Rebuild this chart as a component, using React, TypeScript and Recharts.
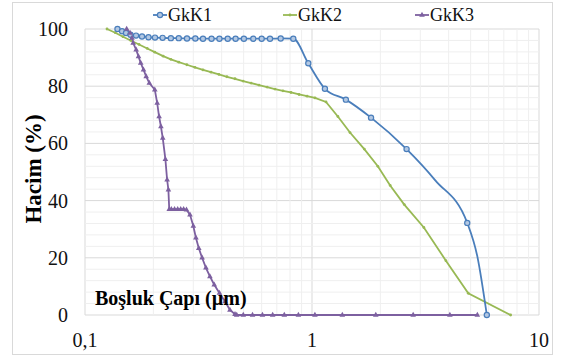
import React from 'react';
import { LineChart, Line, XAxis, YAxis, CartesianGrid, ReferenceLine } from 'recharts';

const gkk1X = [0.139, 0.1456, 0.1516, 0.1586, 0.1678, 0.1783, 0.1904, 0.2034, 0.2197, 0.2389, 0.2589, 0.2814, 0.3062, 0.331, 0.3609, 0.391, 0.4253, 0.4607, 0.5012, 0.5513, 0.6002, 0.6531, 0.7279, 0.8272, 0.963, 1.14, 1.41, 1.82, 2.61, 3.5, 4.83, 5.35, 5.89];
const gkk1Y = [100, 99.2, 98.6, 98.0, 97.7, 97.4, 97.1, 97.0, 96.9, 96.8, 96.8, 96.7, 96.7, 96.6, 96.6, 96.6, 96.6, 96.6, 96.6, 96.6, 96.6, 96.6, 96.7, 96.6, 88.0, 79.1, 75.3, 69.0, 58.0, 47.0, 32.2, 20.5, 0];
// points on the GkK1 curve that carry no marker in the reference
const gkk1NoMarker = [3.5, 5.35];

const gkk2X = [0.125, 0.136, 0.147, 0.159, 0.173, 0.188, 0.203, 0.221, 0.239, 0.259, 0.281, 0.305, 0.331, 0.359, 0.389, 0.422, 0.458, 0.497, 0.539, 0.584, 0.634, 0.687, 0.745, 0.808, 0.877, 0.951, 1.031, 1.153, 1.3, 1.47, 1.7, 1.95, 2.21, 2.55, 3.11, 3.89, 4.88, 7.5];
const gkk2Y = [100, 98.7, 97.3, 96.0, 94.6, 93.2, 91.9, 90.5, 89.4, 88.4, 87.5, 86.6, 85.7, 84.9, 84.1, 83.3, 82.6, 81.8, 81.1, 80.4, 79.7, 79.0, 78.4, 77.8, 77.1, 76.5, 75.9, 74.5, 69.4, 63.8, 58.0, 52.0, 45.3, 38.6, 30.6, 19.0, 7.6, 0];

const gkk3X = [0.1526, 0.158, 0.161, 0.163, 0.168, 0.172, 0.176, 0.181, 0.186, 0.192, 0.203, 0.208, 0.212, 0.216, 0.22, 0.226, 0.23, 0.233, 0.235, 0.24, 0.248, 0.256, 0.264, 0.272, 0.28, 0.29, 0.3, 0.308, 0.317, 0.328, 0.341, 0.355, 0.371, 0.391, 0.414, 0.435, 0.458, 0.466, 0.498, 0.547, 0.605, 0.671, 0.755, 0.871, 1.03, 1.36, 1.91, 2.79, 4.05, 5.35];
const gkk3Y = [100, 98.6, 96.9, 95.1, 92.8, 90.4, 88.1, 85.8, 83.4, 81.1, 78.8, 74.1, 69.4, 65.9, 61.9, 54.5, 47.3, 43.8, 37.0, 37.0, 37.0, 37.0, 37.0, 37.0, 36.8, 35.1, 31.1, 27.0, 23.4, 20.0, 16.5, 13.5, 10.6, 7.7, 4.7, 1.8, 0.3, 0, 0, 0, 0, 0, 0, 0, 0, 0, 0, 0, 0, 0];

const xTicks = [0.1, 1, 10];
const yTicks = [0, 20, 40, 60, 80, 100];
const xMinor = [0.2, 0.3, 0.4, 0.5, 0.6, 0.7, 0.8, 0.9, 2, 3, 4, 5, 6, 7, 8, 9];
const yMinor = [4, 8, 12, 16, 24, 28, 32, 36, 44, 48, 52, 56, 64, 68, 72, 76, 84, 88, 92, 96];

const seriesNames = ['GkK1', 'GkK2', 'GkK3'];
const xLabel = 'Boşluk Çapı (µm)';
const yLabel = 'Hacim (%)';

const toData = (xs: number[], ys: number[]) => xs.map((x, i) => ({ x, y: ys[i] }));
const d1 = toData(gkk1X, gkk1Y);
const d2 = toData(gkk2X, gkk2Y);
const d3 = toData(gkk3X, gkk3Y);

const BLUE = '#4A7EBB';
const GREEN = '#98B954';
const PURPLE = '#7D60A0';
const FONT = 'serif';

const CircleDot = (p: any) =>
  gkk1NoMarker.includes(p.payload?.x) ? (
    <g key={`c-${p.index}`} />
  ) : (
    <circle key={`c-${p.index}`} cx={p.cx} cy={p.cy} r={2.6} fill="#B3C8E3" stroke={BLUE} strokeWidth={1.2} />
  );
const SmallDot = (p: any) => (
  <circle key={`s-${p.index}`} cx={p.cx} cy={p.cy} r={1.4} fill={GREEN} stroke="none" />
);
const TriDot = (p: any) => (
  <path key={`t-${p.index}`} d={`M${p.cx},${p.cy - 3.2} L${p.cx + 2.8},${p.cy + 1.8} L${p.cx - 2.8},${p.cy + 1.8} Z`} fill={PURPLE} />
);

const fmt = (v: number) => String(v).replace('.', ',');

const tickText: React.CSSProperties = { fontFamily: FONT, fontSize: 20, lineHeight: '26px', color: '#111', whiteSpace: 'nowrap' };

const XTick = (p: any) => (
  <foreignObject x={p.x - 40} y={p.y - 8} width={80} height={26}>
    <div style={{ ...tickText, textAlign: 'center' }}>{fmt(p.payload.value)}</div>
  </foreignObject>
);
const YTick = (p: any) => (
  <foreignObject x={p.x - 60} y={p.y - 13} width={60} height={26}>
    <div style={{ ...tickText, textAlign: 'right' }}>{fmt(p.payload.value)}</div>
  </foreignObject>
);

const legendItems = [
  { name: seriesNames[0], color: BLUE, lx: 153, tx: 168, marker: 'circle' },
  { name: seriesNames[1], color: GREEN, lx: 283, tx: 298, marker: 'dot' },
  { name: seriesNames[2], color: PURPLE, lx: 415, tx: 430, marker: 'tri' },
];

export default function App() {
  return (
    <div style={{ position: 'absolute', left: 0, top: 0, width: 561, height: 358, background: '#fff' }}>
      <div style={{ position: 'absolute', left: 12, top: 2, width: 539, height: 351, border: '1px solid #d9d9d9' }} />
      <div style={{ position: 'absolute', left: 0, top: 0 }}>
        <LineChart width={561} height={358} margin={{ top: 29, right: 22, bottom: 13, left: 25 }}>
          {xMinor.map((v) => (
            <ReferenceLine key={`xm${v}`} x={v} stroke="#efefef" strokeWidth={1} />
          ))}
          {yMinor.map((v) => (
            <ReferenceLine key={`ym${v}`} y={v} stroke="#efefef" strokeWidth={1} />
          ))}
          <CartesianGrid stroke="#d9d9d9" strokeWidth={1} />
          <XAxis
            dataKey="x"
            type="number"
            scale="log"
            domain={[0.1, 10]}
            ticks={xTicks}
            allowDataOverflow
            axisLine={false}
            tickLine={false}
            tick={<XTick />}
            tickMargin={14}
            height={30}
          />
          <YAxis
            type="number"
            domain={[0, 100]}
            ticks={yTicks}
            axisLine={false}
            tickLine={false}
            tick={<YTick />}
            tickMargin={11}
            width={60}
          />
          <Line data={d2} dataKey="y" name={seriesNames[1]} type="linear" stroke={GREEN} strokeWidth={1.8} dot={SmallDot} isAnimationActive={false} />
          <Line data={d1} dataKey="y" name={seriesNames[0]} type="monotone" stroke={BLUE} strokeWidth={1.8} dot={CircleDot} isAnimationActive={false} />
          <Line data={d3} dataKey="y" name={seriesNames[2]} type="linear" stroke={PURPLE} strokeWidth={1.8} dot={TriDot} isAnimationActive={false} />
        </LineChart>
      </div>
      <svg width={561} height={30} style={{ position: 'absolute', left: 0, top: 0, pointerEvents: 'none' }}>
        {legendItems.map((it) => (
          <g key={it.name}>
            <line x1={it.lx} y1={15} x2={it.lx + 14} y2={15} stroke={it.color} strokeWidth={1.8} />
            {it.marker === 'circle' && <circle cx={it.lx + 7} cy={15} r={2.6} fill="#B3C8E3" stroke={it.color} strokeWidth={1.2} />}
            {it.marker === 'dot' && <circle cx={it.lx + 7} cy={15} r={1.4} fill={it.color} />}
            {it.marker === 'tri' && <path d={`M${it.lx + 7},11.8 L${it.lx + 9.8},16.8 L${it.lx + 4.2},16.8 Z`} fill={it.color} />}
          </g>
        ))}
      </svg>
      {legendItems.map((it) => (
        <div key={`t${it.name}`} style={{ position: 'absolute', left: it.tx, top: 6, fontFamily: FONT, fontSize: 18, lineHeight: '18px', color: '#111', whiteSpace: 'nowrap' }}>
          {it.name}
        </div>
      ))}
      <div style={{ position: 'absolute', left: 95, top: 288, fontFamily: FONT, fontSize: 20, lineHeight: '20px', fontWeight: 'bold', color: '#000', whiteSpace: 'nowrap' }}>
        {xLabel}
      </div>
      <div style={{ position: 'absolute', left: 34 - 100, top: 169 - 15, width: 200, height: 30, transform: 'rotate(-90deg)', textAlign: 'center', fontFamily: FONT, fontSize: 23, lineHeight: '30px', fontWeight: 'bold', color: '#000', whiteSpace: 'nowrap' }}>
        {yLabel}
      </div>
    </div>
  );
}
